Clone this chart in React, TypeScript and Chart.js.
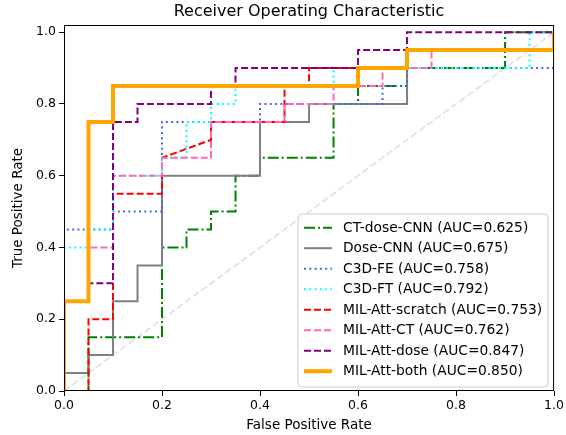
import React, { useEffect, useRef } from "react";
import { Chart, registerables } from "chart.js";

Chart.register(...registerables);

const TITLE = "Receiver Operating Characteristic";
const X_LABEL = "False Positive Rate";
const Y_LABEL = "True Positive Rate";
const TICKS = [0, 0.2, 0.4, 0.6, 0.8, 1.0];

const NAMES = [
  "CT-dose-CNN (AUC=0.625)",
  "Dose-CNN (AUC=0.675)",
  "C3D-FE (AUC=0.758)",
  "C3D-FT (AUC=0.792)",
  "MIL-Att-scratch (AUC=0.753)",
  "MIL-Att-CT (AUC=0.762)",
  "MIL-Att-dose (AUC=0.847)",
  "MIL-Att-both (AUC=0.850)",
];

const FPR_CT_DOSE_CNN = [0, 0.05, 0.05, 0.2, 0.2, 0.25, 0.25, 0.3, 0.3, 0.35, 0.35, 0.4, 0.4, 0.55, 0.55, 0.6, 0.6, 0.7, 0.7, 0.9, 0.9, 1.0];
const TPR_CT_DOSE_CNN = [0, 0, 0.15, 0.15, 0.4, 0.4, 0.45, 0.45, 0.5, 0.5, 0.6, 0.6, 0.65, 0.65, 0.8, 0.8, 0.85, 0.85, 0.9, 0.9, 1.0, 1.0];

const FPR_DOSE_CNN = [0, 0, 0.05, 0.05, 0.1, 0.1, 0.15, 0.15, 0.2, 0.2, 0.4, 0.4, 0.5, 0.5, 0.7, 0.7, 1.0, 1.0];
const TPR_DOSE_CNN = [0, 0.05, 0.05, 0.1, 0.1, 0.25, 0.25, 0.35, 0.35, 0.6, 0.6, 0.75, 0.75, 0.8, 0.8, 0.95, 0.95, 1.0];

const FPR_C3D_FE = [0, 0, 0.1, 0.1, 0.2, 0.2, 0.4, 0.4, 0.65, 0.65, 0.7, 0.7, 1.0, 1.0];
const TPR_C3D_FE = [0, 0.45, 0.45, 0.5, 0.5, 0.75, 0.75, 0.8, 0.8, 0.85, 0.85, 0.9, 0.9, 1.0];

const FPR_C3D_FT = [0, 0, 0.05, 0.05, 0.1, 0.1, 0.2, 0.2, 0.25, 0.25, 0.3, 0.3, 0.35, 0.35, 0.55, 0.55, 0.95, 0.95, 1.0];
const TPR_C3D_FT = [0, 0.4, 0.4, 0.45, 0.45, 0.6, 0.6, 0.65, 0.65, 0.75, 0.75, 0.8, 0.8, 0.85, 0.85, 0.9, 0.9, 1.0, 1.0];

const FPR_MIL_SCRATCH = [0, 0.05, 0.05, 0.1, 0.1, 0.2, 0.2, 0.3, 0.3, 0.45, 0.45, 0.5, 0.5, 0.7, 0.7, 1.0, 1.0];
const TPR_MIL_SCRATCH = [0, 0, 0.2, 0.2, 0.55, 0.55, 0.65, 0.7, 0.75, 0.75, 0.85, 0.85, 0.9, 0.9, 0.95, 0.95, 1.0];

const FPR_MIL_CT = [0, 0, 0.05, 0.05, 0.1, 0.1, 0.2, 0.2, 0.3, 0.3, 0.45, 0.45, 0.55, 0.55, 0.65, 0.65, 0.75, 0.75, 1.0, 1.0];
const TPR_MIL_CT = [0, 0.25, 0.25, 0.4, 0.4, 0.6, 0.6, 0.65, 0.65, 0.75, 0.75, 0.8, 0.8, 0.85, 0.85, 0.9, 0.9, 0.95, 0.95, 1.0];

const FPR_MIL_DOSE = [0, 0, 0.05, 0.05, 0.1, 0.1, 0.15, 0.15, 0.3, 0.3, 0.35, 0.35, 0.6, 0.6, 0.7, 0.7, 1.0];
const TPR_MIL_DOSE = [0, 0.25, 0.25, 0.3, 0.3, 0.75, 0.75, 0.8, 0.8, 0.85, 0.85, 0.9, 0.9, 0.95, 0.95, 1.0, 1.0];

const FPR_MIL_BOTH = [0, 0, 0.05, 0.05, 0.1, 0.1, 0.6, 0.6, 0.7, 0.7, 1.0, 1.0];
const TPR_MIL_BOTH = [0, 0.25, 0.25, 0.75, 0.75, 0.85, 0.85, 0.9, 0.9, 0.95, 0.95, 1.0];

const CHANCE_X = [0, 1];
const CHANCE_Y = [0, 1];

const FONT = "'DejaVu Sans', sans-serif";

const STYLES = [
  { color: "#008000", width: 2, dash: [11, 3, 2, 3] },
  { color: "#808080", width: 2, dash: [] },
  { color: "#4169e1", width: 2, dash: [2, 3.3] },
  { color: "#00ffff", width: 2, dash: [2, 3.3] },
  { color: "#ff0000", width: 2, dash: [7, 3] },
  { color: "#ff69b4", width: 2, dash: [7, 3] },
  { color: "#800080", width: 2, dash: [7, 3] },
  { color: "#ffa500", width: 4, dash: [] },
];

const SERIES = [
  [FPR_CT_DOSE_CNN, TPR_CT_DOSE_CNN],
  [FPR_DOSE_CNN, TPR_DOSE_CNN],
  [FPR_C3D_FE, TPR_C3D_FE],
  [FPR_C3D_FT, TPR_C3D_FT],
  [FPR_MIL_SCRATCH, TPR_MIL_SCRATCH],
  [FPR_MIL_CT, TPR_MIL_CT],
  [FPR_MIL_DOSE, TPR_MIL_DOSE],
  [FPR_MIL_BOTH, TPR_MIL_BOTH],
];

const toPoints = (xs: number[], ys: number[]) => xs.map((x, i) => ({ x, y: ys[i] }));

const decorPlugin = {
  id: "decor",
  afterDatasetsDraw(chart: any) {
    const { ctx, chartArea } = chart;
    const { left, top, right, bottom } = chartArea;
    ctx.save();
    // frame
    ctx.strokeStyle = "#000";
    ctx.lineWidth = 1;
    ctx.setLineDash([]);
    ctx.strokeRect(left + 0.5, top + 0.5, right - left - 1, bottom - top - 1);

    // legend
    const lx0 = 298, ly0 = 214, lx1 = 548, ly1 = 387, r = 4;
    ctx.beginPath();
    ctx.moveTo(lx0 + r, ly0);
    ctx.lineTo(lx1 - r, ly0);
    ctx.quadraticCurveTo(lx1, ly0, lx1, ly0 + r);
    ctx.lineTo(lx1, ly1 - r);
    ctx.quadraticCurveTo(lx1, ly1, lx1 - r, ly1);
    ctx.lineTo(lx0 + r, ly1);
    ctx.quadraticCurveTo(lx0, ly1, lx0, ly1 - r);
    ctx.lineTo(lx0, ly0 + r);
    ctx.quadraticCurveTo(lx0, ly0, lx0 + r, ly0);
    ctx.closePath();
    ctx.fillStyle = "rgba(255,255,255,0.8)";
    ctx.fill();
    ctx.strokeStyle = "#cccccc";
    ctx.lineWidth = 1;
    ctx.stroke();

    ctx.font = `13.8px ${FONT}`;
    ctx.textBaseline = "middle";
    ctx.textAlign = "left";
    NAMES.forEach((name, i) => {
      const y = 227.7 + i * 20.5;
      const st = STYLES[i];
      ctx.beginPath();
      ctx.strokeStyle = st.color;
      ctx.lineWidth = st.width;
      ctx.setLineDash(st.dash);
      ctx.moveTo(304, y);
      ctx.lineTo(332, y);
      ctx.stroke();
      ctx.setLineDash([]);
      ctx.fillStyle = "#000";
      ctx.fillText(name, 343, y + 0.5);
    });

    // titles
    ctx.fillStyle = "#000";
    ctx.textAlign = "center";
    ctx.font = `16px ${FONT}`;
    ctx.fillText(TITLE, (left + right) / 2, 12);
    ctx.font = `13.5px ${FONT}`;
    ctx.fillText(X_LABEL, (left + right) / 2, 425);
    ctx.translate(18, (top + bottom) / 2);
    ctx.rotate(-Math.PI / 2);
    ctx.fillText(Y_LABEL, 0, 0);
    ctx.restore();
  },
};

export default function App() {
  const ref = useRef<HTMLCanvasElement | null>(null);

  useEffect(() => {
    if (!ref.current) return;
    const n = SERIES.length;
    const datasets: any[] = SERIES.map(([xs, ys], i) => ({
      label: NAMES[i],
      data: toPoints(xs as number[], ys as number[]),
      borderColor: STYLES[i].color,
      borderWidth: STYLES[i].width,
      borderDash: STYLES[i].dash,
      pointRadius: 0,
      fill: false,
      tension: 0,
      order: n - i,
    }));
    datasets.push({
      label: "chance",
      data: toPoints(CHANCE_X, CHANCE_Y),
      borderColor: "rgba(200,208,225,0.7)",
      borderWidth: 1.5,
      borderDash: [7, 3],
      pointRadius: 0,
      fill: false,
      order: n + 1,
    });

    const tickFont = { family: FONT, size: 12.5 };
    const chart = new Chart(ref.current, {
      type: "line",
      data: { datasets },
      options: {
        responsive: false,
        animation: false,
        layout: { padding: { left: 0, right: 11, top: 25, bottom: 0 } },
        plugins: { legend: { display: false }, tooltip: { enabled: false }, title: { display: false } },
        scales: {
          x: {
            type: "linear",
            min: 0,
            max: 1,
            afterBuildTicks: (s: any) => { s.ticks = TICKS.map((v) => ({ value: v })); },
            afterFit: (s: any) => { s.height = 44; },
            grid: { drawOnChartArea: false, drawTicks: true, tickLength: 5, color: "#000", tickColor: "#000" },
            border: { display: false },
            ticks: { color: "#000", font: tickFont, padding: 2, maxRotation: 0, callback: (v: any) => Number(v).toFixed(1) },
          },
          y: {
            type: "linear",
            min: 0,
            max: 1.02,
            afterBuildTicks: (s: any) => { s.ticks = TICKS.map((v) => ({ value: v })); },
            afterFit: (s: any) => { s.width = 64; },
            grid: { drawOnChartArea: false, drawTicks: true, tickLength: 5, color: "#000", tickColor: "#000" },
            border: { display: false },
            ticks: { color: "#000", font: tickFont, padding: 3, callback: (v: any) => Number(v).toFixed(1) },
          },
        },
      },
      plugins: [decorPlugin],
    } as any);
    return () => chart.destroy();
  }, []);

  return (
    <div style={{ position: "fixed", left: 0, top: 0, width: 566, height: 435, background: "#fff" }}>
      <canvas ref={ref} width={566} height={435} style={{ width: 566, height: 435 }} />
    </div>
  );
}
